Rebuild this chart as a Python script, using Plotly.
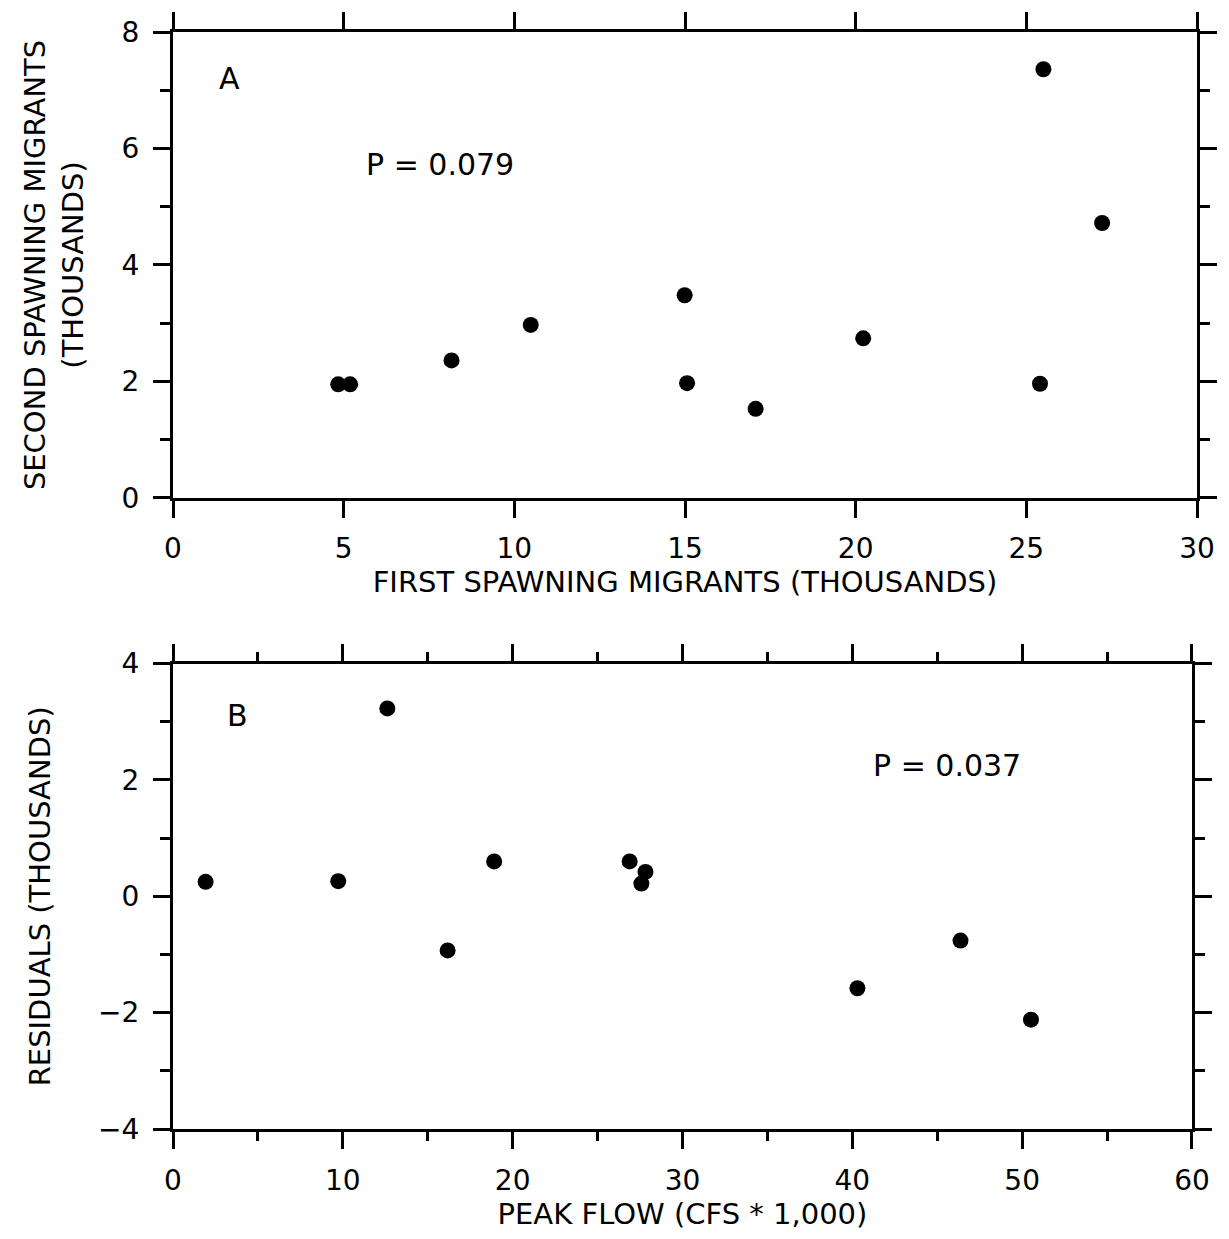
import plotly.graph_objects as go

# Panel A data (thousands)
first_migrants = [4.84, 5.19, 8.16, 10.48, 14.99, 15.06, 17.07, 20.22, 25.40, 25.50, 27.22]
second_migrants = [1.95, 1.95, 2.36, 2.97, 3.48, 1.97, 1.53, 2.74, 1.96, 7.36, 4.72]

# Panel B data
peak_flow = [1.92, 9.73, 12.62, 16.17, 18.91, 26.89, 27.58, 27.82, 40.30, 46.37, 50.52]
residuals = [0.25, 0.26, 3.23, -0.93, 0.60, 0.60, 0.22, 0.42, -1.58, -0.76, -2.12]

FONT = "DejaVu Sans"
BLACK = "black"

fig = go.Figure()
fig.add_trace(go.Scatter(x=first_migrants, y=second_migrants, mode="markers",
                         marker=dict(size=16, color=BLACK), xaxis="x", yaxis="y",
                         showlegend=False))
fig.add_trace(go.Scatter(x=peak_flow, y=residuals, mode="markers",
                         marker=dict(size=16, color=BLACK), xaxis="x2", yaxis="y2",
                         showlegend=False))

def axis_style(rng, dtick, minor_dtick=None, major_len=17, minor_len=9):
    d = dict(range=rng, dtick=dtick, tick0=0, ticks="outside", ticklen=major_len,
             tickwidth=3, tickcolor=BLACK, showline=True, linewidth=3, linecolor=BLACK,
             mirror="ticks", showgrid=False, zeroline=False,
             tickfont=dict(family=FONT, size=28, color=BLACK))
    if minor_dtick:
        d["minor"] = dict(dtick=minor_dtick, tick0=0, ticks="outside", ticklen=minor_len,
                          tickwidth=3, tickcolor=BLACK, showgrid=False)
    return d

title_font = dict(family=FONT, size=29, color=BLACK)

xa = axis_style([0, 30], 5)
xa.update(domain=[0, 1], anchor="y", ticklabelstandoff=7,
          title=dict(text="FIRST SPAWNING MIGRANTS (THOUSANDS)", font=title_font, standoff=4))
ya = axis_style([0, 8], 2, 1, minor_len=10)
ya.update(domain=[0.5753, 1], anchor="x", ticklabelstandoff=8,
          title=dict(text="SECOND SPAWNING MIGRANTS<br>(THOUSANDS)", font=title_font, standoff=30))

xa2 = axis_style([0, 60], 10, 5)
xa2.update(domain=[0, 0.9951], anchor="y2", ticklabelstandoff=7,
           title=dict(text="PEAK FLOW (CFS * 1,000)", font=title_font, standoff=4))
ya2 = axis_style([-4, 4], 2, 1, minor_len=10)
ya2.update(domain=[0, 0.4242], anchor="x2", ticklabelstandoff=8,
           title=dict(text="RESIDUALS (THOUSANDS)", font=title_font, standoff=39))

ann_font = dict(family=FONT, size=30, color=BLACK)
fig.update_layout(
    width=1229, height=1239,
    margin=dict(l=173, r=28, t=30, b=110),
    paper_bgcolor="white", plot_bgcolor="white",
    xaxis=xa, yaxis=ya, xaxis2=xa2, yaxis2=ya2,
    annotations=[
        dict(text="A", x=1.66, y=7.2, xref="x", yref="y", showarrow=False, font=ann_font),
        dict(text="P = 0.079", x=7.82, y=5.73, xref="x", yref="y", showarrow=False, font=ann_font),
        dict(text="B", x=3.8, y=3.11, xref="x2", yref="y2", showarrow=False, font=ann_font),
        dict(text="P = 0.037", x=45.6, y=2.25, xref="x2", yref="y2", showarrow=False, font=ann_font),
    ],
)

fig.write_html("out.html")
